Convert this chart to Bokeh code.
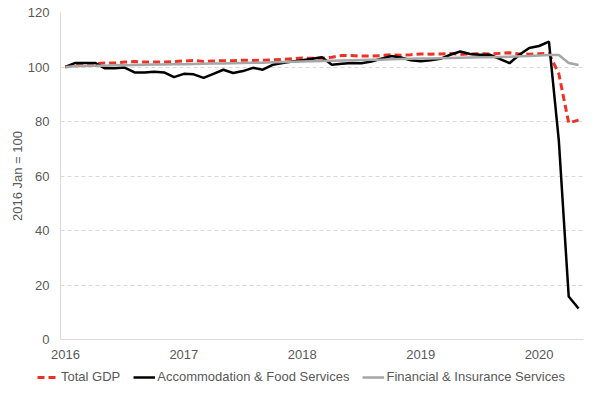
from bokeh.plotting import figure
from bokeh.layouts import column
from bokeh.models import Range1d, FixedTicker, Legend, LegendItem
from bokeh.embed import file_html
from bokeh.resources import INLINE

months = list(range(53))  # Jan 2016 .. May 2020
year_ticks = [0, 12, 24, 36, 48]
year_labels = ["2016", "2017", "2018", "2019", "2020"]

total_gdp = [100, 100.8, 101, 101.2, 101.5, 101.5, 101.8, 102, 101.8, 101.8, 101.8, 102,
             102.2, 102.4, 102, 102.2, 102.3, 102.3, 102.5, 102.4, 102.5, 102.6, 102.8, 103,
             103.3, 103.2, 103.2, 103.6, 104.2, 104.2, 104, 104, 104.2, 104.5, 104.3, 104.5,
             104.8, 104.7, 104.8, 105, 104.6, 104.8, 104.9, 104.8, 105, 105.2, 104.8, 104.7,
             104.9, 105, 97.5, 79.5, 80.5]
accommodation = [100, 101.5, 101.5, 101.5, 99.5, 99.5, 99.8, 98, 98, 98.3, 98, 96.3,
                 97.5, 97.3, 96, 97.5, 99, 97.8, 98.5, 99.7, 99, 100.8, 101.5, 102,
                 102.5, 103, 103.6, 100.8, 101.2, 101.5, 101.4, 102, 103, 104, 103.5, 102.5,
                 102.1, 102.5, 103, 104.5, 105.7, 104.8, 104.5, 104.5, 103, 101.4, 104.5, 107,
                 107.7, 109.3, 73, 15.8, 11.4]
financial = [100, 100.3, 100.4, 100.5, 100.5, 100.6, 100.6, 100.7, 100.8, 100.9, 100.9, 101,
             101, 101.1, 101.2, 101.3, 101.3, 101.4, 101.5, 101.6, 101.6, 101.7, 101.8, 101.9,
             102, 102.1, 102.2, 102.3, 102.4, 102.5, 102.6, 102.7, 102.7, 102.8, 102.9, 103,
             103.1, 103.1, 103.2, 103.3, 103.4, 103.5, 103.6, 103.6, 103.7, 103.8, 103.9, 104,
             104.2, 104.4, 104.4, 101.5, 100.7]

series_names = ["Total GDP", "Accommodation & Food Services", "Financial & Insurance Services"]
series_values = [total_gdp, accommodation, financial]
series_colors = ["#ee3124", "black", "#a6a6a6"]
series_widths = [3, 2.5, 2.5]
series_dash = ["7 4", "solid", "solid"]

FONT = "Liberation Sans"
TXT = "#595959"
FS = "13px"

p = figure(width=592, height=366, output_backend="svg", toolbar_location=None,
           x_range=Range1d(-0.5, 52.5), y_range=Range1d(0, 120),
           min_border_left=60, min_border_right=9, min_border_top=12, min_border_bottom=27)
p.outline_line_color = None

for vals, col, w, d in zip(series_values, series_colors, series_widths, series_dash):
    p.line(months, vals, line_color=col, line_width=w, line_dash=d)

p.xgrid.grid_line_color = None
p.ygrid.grid_line_color = "#d9d9d9"
p.ygrid.grid_line_dash = "4 3"
p.ygrid.ticker = FixedTicker(ticks=[20, 40, 60, 80, 100, 120])

p.xaxis.ticker = FixedTicker(ticks=year_ticks)
p.xaxis.major_label_overrides = {t: l for t, l in zip(year_ticks, year_labels)}
p.yaxis.ticker = FixedTicker(ticks=[0, 20, 40, 60, 80, 100, 120])

for ax in (p.xaxis[0], p.yaxis[0]):
    ax.axis_line_color = "#d9d9d9"
    ax.axis_line_width = 1
    ax.major_tick_line_color = None
    ax.minor_tick_line_color = None
    ax.major_label_text_font = FONT
    ax.major_label_text_font_size = FS
    ax.major_label_text_color = TXT

p.xaxis.major_label_standoff = 4
p.yaxis.major_label_standoff = 5
p.yaxis.axis_label = "2016 Jan = 100"
p.yaxis.axis_label_text_font = FONT
p.yaxis.axis_label_text_font_size = FS
p.yaxis.axis_label_text_font_style = "normal"
p.yaxis.axis_label_text_color = TXT
p.yaxis.axis_label_standoff = 0

# legend strip below the chart: same series, drawn outside its visible range
lg = figure(width=592, height=24, output_backend="svg", toolbar_location=None,
            x_range=Range1d(-3, -2), y_range=Range1d(-3, -2),
            min_border=0, x_axis_type=None, y_axis_type=None)
lg.outline_line_color = None
lg.xgrid.grid_line_color = None
lg.ygrid.grid_line_color = None
aligned_free = "frame_align" in lg.properties()
if aligned_free:
    lg.frame_align = False
items = []
for name, vals, col, w, d in zip(series_names, series_values, series_colors, series_widths, series_dash):
    r = lg.line(months, vals, line_color=col, line_width=w, line_dash=d)
    items.append(LegendItem(label=name, renderers=[r]))
legend = Legend(items=items, orientation="horizontal",
                location=(37, 6) if aligned_free else (0, 6))
legend.label_text_font = FONT
legend.label_text_font_size = FS
legend.label_text_color = TXT
legend.glyph_width = 22
legend.glyph_height = 14
legend.label_standoff = 2
legend.spacing = 13 if aligned_free else 8
legend.padding = 2
legend.margin = 0
legend.border_line_color = None
legend.background_fill_alpha = 0
lg.add_layout(legend, "center")

layout = column(p, lg, spacing=0)
open("out.html", "w").write(file_html(layout, INLINE))
